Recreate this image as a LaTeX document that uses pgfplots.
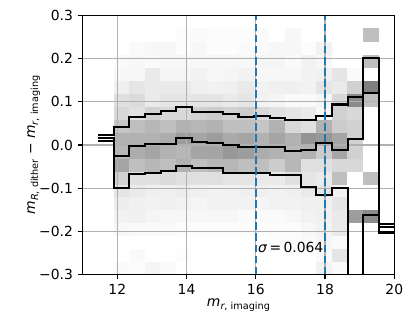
\documentclass[border=0pt]{standalone}
\usepackage{fontspec}
\setmainfont{DejaVu Sans}
\usepackage{pgfplots}
\pgfplotsset{compat=1.18}
\definecolor{tabblue}{RGB}{31,119,180}
\definecolor{gridc}{RGB}{176,176,176}
\newcommand{\msub}[2]{\textit{m}\raisebox{-0.4ex}{\fontsize{7}{8}\selectfont\textit{#1}, #2}}
\begin{document}
\begin{tikzpicture}
\path (0,0) rectangle (298.8pt,232.56pt);
\begin{axis}[
  at={(59.54pt,35.06pt)}, anchor=south west,
  scale only axis, width=224.35pt, height=186.19pt,
  axis on top,
  xmin=11, xmax=20, ymin=-0.3, ymax=0.3,
  xtick={12,14,16,18,20},
  ytick={-0.3,-0.2,-0.1,0,0.1,0.2,0.3},
  yticklabels={−0.3,−0.2,−0.1,0.0,0.1,0.2,0.3},
  tick align=outside, major tick length=3.5pt,
  xtick pos=bottom, ytick pos=left,
  tick style={black, line width=0.8pt},
  axis line style={black, line width=0.8pt},
  colormap={greys}{gray(0cm)=(1); gray(1cm)=(0)},
  point meta min=0, point meta max=1,
  /pgf/number format/assume math mode=true,
  ticklabel style={font=\fontsize{10}{12}\selectfont},
  label style={font=\fontsize{10}{12}\selectfont},
  xlabel={\msub{r}{imaging}},
  ylabel={\msub{R}{dither} − \msub{r}{imaging}},
  xlabel style={at={(axis description cs:0.5,-0.1253)}, anchor=base},
  ylabel style={at={(axis description cs:-0.153,0.5)}, anchor=base},
]
\addplot[matrix plot*, mesh/cols=17, mesh/rows=19, point meta=explicit, draw=none]
 table[row sep=\\, meta=c]{
x y c\\
12.125 -0.285 0.02\\ 12.575 -0.285 0.01\\ 13.025 -0.285 0.04\\ 13.475 -0.285 0.02\\ 13.925 -0.285 0\\ 14.375 -0.285 0\\ 14.825 -0.285 0\\ 15.275 -0.285 0\\ 15.725 -0.285 0\\ 16.175 -0.285 0\\ 16.625 -0.285 0\\ 17.075 -0.285 0\\ 17.525 -0.285 0\\ 17.975 -0.285 0.05\\ 18.425 -0.285 0.02\\ 18.875 -0.285 0\\ 19.325 -0.285 0\\
12.125 -0.255 0\\ 12.575 -0.255 0.02\\ 13.025 -0.255 0\\ 13.475 -0.255 0\\ 13.925 -0.255 0.01\\ 14.375 -0.255 0\\ 14.825 -0.255 0\\ 15.275 -0.255 0\\ 15.725 -0.255 0\\ 16.175 -0.255 0\\ 16.625 -0.255 0\\ 17.075 -0.255 0\\ 17.525 -0.255 0\\ 17.975 -0.255 0.02\\ 18.425 -0.255 0.10\\ 18.875 -0.255 0\\ 19.325 -0.255 0\\
12.125 -0.225 0\\ 12.575 -0.225 0\\ 13.025 -0.225 0\\ 13.475 -0.225 0\\ 13.925 -0.225 0\\ 14.375 -0.225 0\\ 14.825 -0.225 0\\ 15.275 -0.225 0\\ 15.725 -0.225 0\\ 16.175 -0.225 0\\ 16.625 -0.225 0.01\\ 17.075 -0.225 0.01\\ 17.525 -0.225 0.02\\ 17.975 -0.225 0.04\\ 18.425 -0.225 0.02\\ 18.875 -0.225 0\\ 19.325 -0.225 0\\
12.125 -0.195 0.03\\ 12.575 -0.195 0.02\\ 13.025 -0.195 0.02\\ 13.475 -0.195 0.02\\ 13.925 -0.195 0.01\\ 14.375 -0.195 0.01\\ 14.825 -0.195 0.01\\ 15.275 -0.195 0.01\\ 15.725 -0.195 0.01\\ 16.175 -0.195 0.01\\ 16.625 -0.195 0.01\\ 17.075 -0.195 0.01\\ 17.525 -0.195 0.03\\ 17.975 -0.195 0.05\\ 18.425 -0.195 0.08\\ 18.875 -0.195 0\\ 19.325 -0.195 0\\
12.125 -0.165 0.05\\ 12.575 -0.165 0.06\\ 13.025 -0.165 0.04\\ 13.475 -0.165 0.03\\ 13.925 -0.165 0.03\\ 14.375 -0.165 0.03\\ 14.825 -0.165 0.03\\ 15.275 -0.165 0.03\\ 15.725 -0.165 0.02\\ 16.175 -0.165 0.02\\ 16.625 -0.165 0.02\\ 17.075 -0.165 0.03\\ 17.525 -0.165 0.05\\ 17.975 -0.165 0.06\\ 18.425 -0.165 0.08\\ 18.875 -0.165 0.38\\ 19.325 -0.165 0.45\\
12.125 -0.135 0.07\\ 12.575 -0.135 0.06\\ 13.025 -0.135 0.05\\ 13.475 -0.135 0.06\\ 13.925 -0.135 0.05\\ 14.375 -0.135 0.04\\ 14.825 -0.135 0.05\\ 15.275 -0.135 0.05\\ 15.725 -0.135 0.05\\ 16.175 -0.135 0.04\\ 16.625 -0.135 0.05\\ 17.075 -0.135 0.05\\ 17.525 -0.135 0.06\\ 17.975 -0.135 0.06\\ 18.425 -0.135 0.10\\ 18.875 -0.135 0\\ 19.325 -0.135 0\\
12.125 -0.105 0.10\\ 12.575 -0.105 0.08\\ 13.025 -0.105 0.06\\ 13.475 -0.105 0.06\\ 13.925 -0.105 0.07\\ 14.375 -0.105 0.06\\ 14.825 -0.105 0.05\\ 15.275 -0.105 0.05\\ 15.725 -0.105 0.06\\ 16.175 -0.105 0.06\\ 16.625 -0.105 0.05\\ 17.075 -0.105 0.06\\ 17.525 -0.105 0.08\\ 17.975 -0.105 0.10\\ 18.425 -0.105 0.05\\ 18.875 -0.105 0\\ 19.325 -0.105 0\\
12.125 -0.075 0.18\\ 12.575 -0.075 0.12\\ 13.025 -0.075 0.12\\ 13.475 -0.075 0.14\\ 13.925 -0.075 0.12\\ 14.375 -0.075 0.12\\ 14.825 -0.075 0.12\\ 15.275 -0.075 0.10\\ 15.725 -0.075 0.10\\ 16.175 -0.075 0.08\\ 16.625 -0.075 0.08\\ 17.075 -0.075 0.12\\ 17.525 -0.075 0.10\\ 17.975 -0.075 0.08\\ 18.425 -0.075 0.25\\ 18.875 -0.075 0\\ 19.325 -0.075 0.25\\
12.125 -0.045 0.35\\ 12.575 -0.045 0.25\\ 13.025 -0.045 0.28\\ 13.475 -0.045 0.25\\ 13.925 -0.045 0.30\\ 14.375 -0.045 0.25\\ 14.825 -0.045 0.28\\ 15.275 -0.045 0.28\\ 15.725 -0.045 0.25\\ 16.175 -0.045 0.25\\ 16.625 -0.045 0.20\\ 17.075 -0.045 0.28\\ 17.525 -0.045 0.12\\ 17.975 -0.045 0.12\\ 18.425 -0.045 0.15\\ 18.875 -0.045 0.15\\ 19.325 -0.045 0\\
12.125 -0.015 0.28\\ 12.575 -0.015 0.32\\ 13.025 -0.015 0.35\\ 13.475 -0.015 0.30\\ 13.925 -0.015 0.28\\ 14.375 -0.015 0.35\\ 14.825 -0.015 0.35\\ 15.275 -0.015 0.40\\ 15.725 -0.015 0.38\\ 16.175 -0.015 0.32\\ 16.625 -0.015 0.30\\ 17.075 -0.015 0.28\\ 17.525 -0.015 0.30\\ 17.975 -0.015 0.20\\ 18.425 -0.015 0.35\\ 18.875 -0.015 0.18\\ 19.325 -0.015 0\\
12.125 0.015 0.30\\ 12.575 0.015 0.30\\ 13.025 0.015 0.30\\ 13.475 0.015 0.32\\ 13.925 0.015 0.38\\ 14.375 0.015 0.35\\ 14.825 0.015 0.38\\ 15.275 0.015 0.33\\ 15.725 0.015 0.35\\ 16.175 0.015 0.30\\ 16.625 0.015 0.35\\ 17.075 0.015 0.30\\ 17.525 0.015 0.42\\ 17.975 0.015 0.40\\ 18.425 0.015 0.35\\ 18.875 0.015 0.18\\ 19.325 0.015 0\\
12.125 0.045 0.22\\ 12.575 0.045 0.25\\ 13.025 0.045 0.28\\ 13.475 0.045 0.25\\ 13.925 0.045 0.30\\ 14.375 0.045 0.28\\ 14.825 0.045 0.30\\ 15.275 0.045 0.25\\ 15.725 0.045 0.25\\ 16.175 0.045 0.22\\ 16.625 0.045 0.30\\ 17.075 0.045 0.15\\ 17.525 0.045 0.12\\ 17.975 0.045 0.30\\ 18.425 0.045 0.20\\ 18.875 0.045 0.18\\ 19.325 0.045 0\\
12.125 0.075 0.15\\ 12.575 0.075 0.12\\ 13.025 0.075 0.18\\ 13.475 0.075 0.15\\ 13.925 0.075 0.15\\ 14.375 0.075 0.18\\ 14.825 0.075 0.20\\ 15.275 0.075 0.18\\ 15.725 0.075 0.20\\ 16.175 0.075 0.15\\ 16.625 0.075 0.12\\ 17.075 0.075 0.10\\ 17.525 0.075 0.08\\ 17.975 0.075 0.03\\ 18.425 0.075 0.18\\ 18.875 0.075 0.15\\ 19.325 0.075 0\\
12.125 0.105 0.12\\ 12.575 0.105 0.14\\ 13.025 0.105 0.08\\ 13.475 0.105 0.10\\ 13.925 0.105 0.10\\ 14.375 0.105 0.10\\ 14.825 0.105 0.10\\ 15.275 0.105 0.08\\ 15.725 0.105 0.10\\ 16.175 0.105 0.05\\ 16.625 0.105 0.04\\ 17.075 0.105 0.02\\ 17.525 0.105 0.02\\ 17.975 0.105 0.04\\ 18.425 0.105 0.15\\ 18.875 0.105 0.45\\ 19.325 0.105 0.25\\
12.125 0.135 0.06\\ 12.575 0.135 0.10\\ 13.025 0.135 0.08\\ 13.475 0.135 0.08\\ 13.925 0.135 0.08\\ 14.375 0.135 0.06\\ 14.825 0.135 0.05\\ 15.275 0.135 0.06\\ 15.725 0.135 0.08\\ 16.175 0.135 0.05\\ 16.625 0.135 0.06\\ 17.075 0.135 0.06\\ 17.525 0.135 0.05\\ 17.975 0.135 0.10\\ 18.425 0.135 0.08\\ 18.875 0.135 0.18\\ 19.325 0.135 0.50\\
12.125 0.165 0.03\\ 12.575 0.165 0.03\\ 13.025 0.165 0.08\\ 13.475 0.165 0.04\\ 13.925 0.165 0.04\\ 14.375 0.165 0.05\\ 14.825 0.165 0.03\\ 15.275 0.165 0.04\\ 15.725 0.165 0.05\\ 16.175 0.165 0.03\\ 16.625 0.165 0.03\\ 17.075 0.165 0.03\\ 17.525 0.165 0.05\\ 17.975 0.165 0.06\\ 18.425 0.165 0.10\\ 18.875 0.165 0.02\\ 19.325 0.165 0\\
12.125 0.195 0.02\\ 12.575 0.195 0.03\\ 13.025 0.195 0.02\\ 13.475 0.195 0.03\\ 13.925 0.195 0.03\\ 14.375 0.195 0.03\\ 14.825 0.195 0.03\\ 15.275 0.195 0.03\\ 15.725 0.195 0.03\\ 16.175 0.195 0.04\\ 16.625 0.195 0.04\\ 17.075 0.195 0.02\\ 17.525 0.195 0.05\\ 17.975 0.195 0.03\\ 18.425 0.195 0\\ 18.875 0.195 0\\ 19.325 0.195 0.25\\
12.125 0.225 0\\ 12.575 0.225 0.02\\ 13.025 0.225 0.03\\ 13.475 0.225 0.03\\ 13.925 0.225 0.01\\ 14.375 0.225 0.03\\ 14.825 0.225 0.01\\ 15.275 0.225 0.01\\ 15.725 0.225 0.02\\ 16.175 0.225 0.02\\ 16.625 0.225 0.03\\ 17.075 0.225 0.03\\ 17.525 0.225 0.01\\ 17.975 0.225 0.05\\ 18.425 0.225 0\\ 18.875 0.225 0\\ 19.325 0.225 0\\
12.125 0.255 0\\ 12.575 0.255 0\\ 13.025 0.255 0\\ 13.475 0.255 0\\ 13.925 0.255 0.01\\ 14.375 0.255 0.02\\ 14.825 0.255 0.01\\ 15.275 0.255 0.01\\ 15.725 0.255 0.01\\ 16.175 0.255 0.02\\ 16.625 0.255 0\\ 17.075 0.255 0.03\\ 17.525 0.255 0\\ 17.975 0.255 0\\ 18.425 0.255 0\\ 18.875 0.255 0\\ 19.325 0.255 0.25\\
};
\pgfplotsinvokeforeach{12,14,16,18}{\draw[gridc, line width=0.8pt] (axis cs:#1,-0.3) -- (axis cs:#1,0.3);}
\pgfplotsinvokeforeach{-0.2,-0.1,0,0.1,0.2}{\draw[gridc, line width=0.8pt] (axis cs:11,#1) -- (axis cs:20,#1);}
% upper percentile
\addplot[black, line width=1.5pt, const plot mark left] coordinates {
(11.45,0.024) (11.9,0.041) (12.35,0.064) (12.8,0.072) (13.25,0.079) (13.7,0.088) (14.15,0.076) (14.6,0.076) (15.05,0.072) (15.5,0.064) (15.95,0.067) (16.4,0.062) (16.85,0.057) (17.3,0.057) (17.75,0.067) (18.2,0.094) (18.65,0.112) (19.1,0.201) (19.55,-0.184) (20,-0.184)};
% median
\addplot[black, line width=1.5pt, const plot mark left] coordinates {
(11.45,0.017) (11.9,-0.025) (12.35,-0.003) (12.8,0.003) (13.25,0.003) (13.7,0.016) (14.15,0.007) (14.6,0.004) (15.05,0.001) (15.5,-0.004) (15.95,-0.005) (16.4,-0.005) (16.85,-0.014) (17.3,-0.012) (17.75,0.004) (18.2,-0.012) (18.65,0.015) (19.1,0.12) (19.55,-0.191) (20,-0.191)};
% lower percentile
\addplot[black, line width=1.5pt, const plot mark left] coordinates {
(11.45,0.010) (11.9,-0.1) (12.35,-0.068) (12.8,-0.066) (13.25,-0.06) (13.7,-0.049) (14.15,-0.054) (14.6,-0.054) (15.05,-0.066) (15.5,-0.064) (15.95,-0.064) (16.4,-0.07) (16.85,-0.07) (17.3,-0.097) (17.75,-0.116) (18.2,-0.1) (18.65,-0.5) (19.1,-0.162) (19.55,-0.203) (20,-0.203)};
\addplot[tabblue, line width=1.5pt, dash pattern=on 5.55pt off 2.4pt] coordinates {(16,-0.3) (16,0.3)};
\addplot[tabblue, line width=1.5pt, dash pattern=on 5.55pt off 2.4pt] coordinates {(18,-0.3) (18,0.3)};
\node[anchor=west, inner sep=0pt, font=\fontsize{10}{12}\selectfont] at (axis cs:16.06,-0.237) {\textit{σ}\thinspace=\thinspace0.064};
\end{axis}
\draw[black, line width=0.8pt] (current axis.south west) rectangle (current axis.north east);
\end{tikzpicture}
\end{document}
